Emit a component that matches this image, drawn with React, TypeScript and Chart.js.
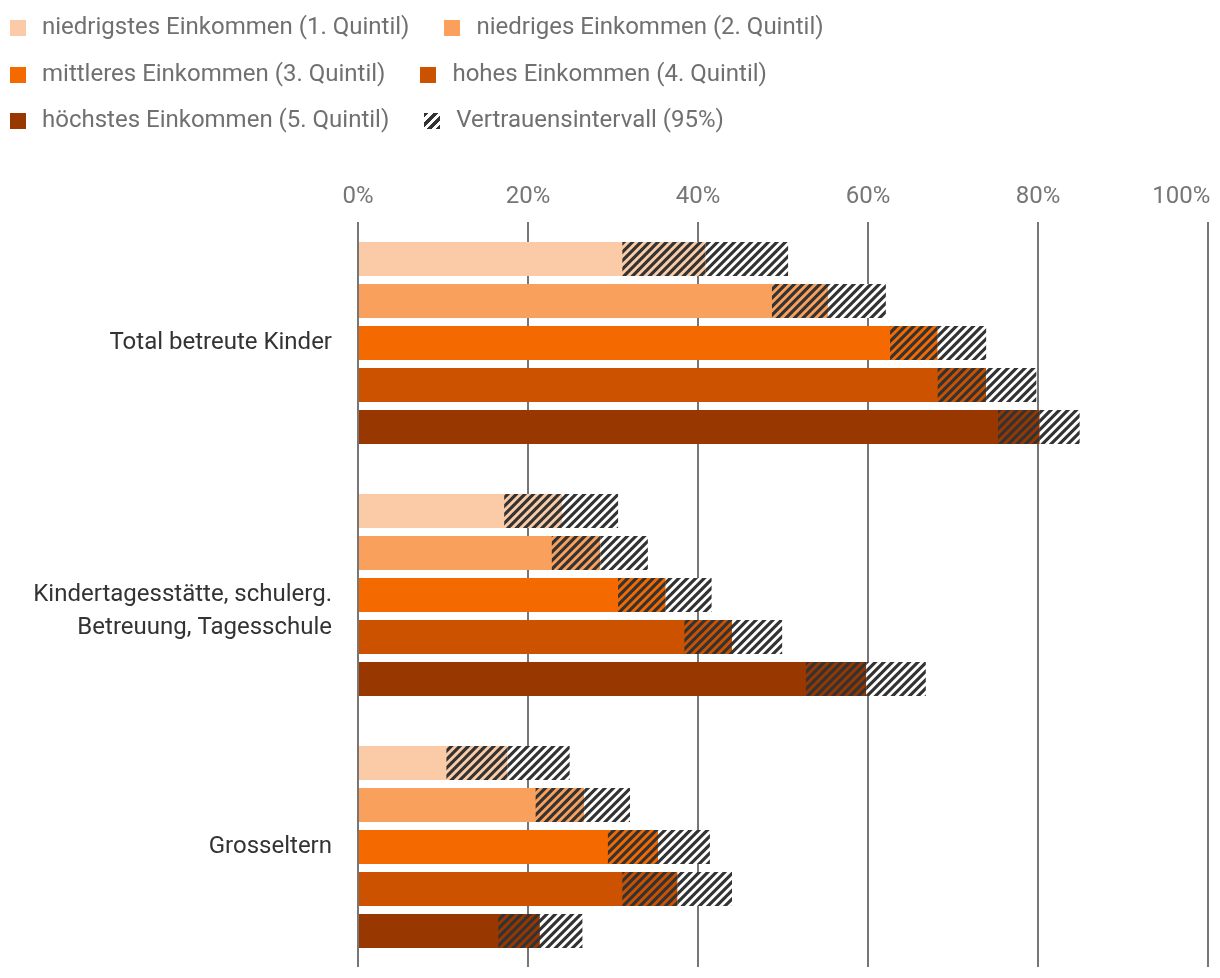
import React, { useEffect, useRef } from "react";
import { Chart, registerables } from "chart.js";

Chart.register(...registerables);

// ---- data ----
const categoryLines: string[][] = [
  ["Total betreute Kinder"],
  ["Kindertagesstätte, schulerg.", "Betreuung, Tagesschule"],
  ["Grosseltern"],
];
const categoryIndex = [0, 1, 2];

const quintileLabels = [
  "niedrigstes Einkommen (1. Quintil)",
  "niedriges Einkommen (2. Quintil)",
  "mittleres Einkommen (3. Quintil)",
  "hohes Einkommen (4. Quintil)",
  "höchstes Einkommen (5. Quintil)",
];
const ciLabel = "Vertrauensintervall (95%)";
const quintileColors = ["#FBCBA7", "#F9A05C", "#F46A00", "#CC5200", "#983800"];

// estimate per quintile, per category
const estQ1 = [40.9, 24.0, 17.6];
const estQ2 = [55.3, 28.5, 26.6];
const estQ3 = [68.2, 36.2, 35.3];
const estQ4 = [73.9, 44.0, 37.6];
const estQ5 = [80.2, 59.8, 21.4];

const lowQ1 = [31.1, 17.2, 10.4];
const lowQ2 = [48.7, 22.8, 20.9];
const lowQ3 = [62.6, 30.6, 29.4];
const lowQ4 = [68.2, 38.4, 31.1];
const lowQ5 = [75.3, 52.7, 16.5];

const upQ1 = [50.6, 30.6, 24.9];
const upQ2 = [62.1, 34.1, 32.0];
const upQ3 = [73.9, 41.6, 41.4];
const upQ4 = [79.8, 49.9, 44.0];
const upQ5 = [84.9, 66.8, 26.4];

const estimates = [estQ1, estQ2, estQ3, estQ4, estQ5];
const lowers = [lowQ1, lowQ2, lowQ3, lowQ4, lowQ5];
const uppers = [upQ1, upQ2, upQ3, upQ4, upQ5];

const xTickValues = [0, 20, 40, 60, 80, 100];
const xTickLabels = ["0%", "20%", "40%", "60%", "80%", "100%"];

const FONT = "Roboto";

function makeHatch(bg: string | null): CanvasPattern | string {
  const s = 17;
  const c = document.createElement("canvas");
  c.width = s;
  c.height = s;
  const g = c.getContext("2d");
  if (!g) return "#333";
  if (bg) {
    g.fillStyle = bg;
    g.fillRect(0, 0, s, s);
  }
  g.strokeStyle = "#333333";
  g.lineWidth = 3.1;
  g.beginPath();
  for (let k = -3; k <= 3; k++) {
    const o = (k * s) / 2;
    g.moveTo(o - 2, s + 2);
    g.lineTo(o + s + 2, -2);
  }
  g.stroke();
  return g.createPattern(c, "repeat") as CanvasPattern;
}

function LegendItem({ color, label, hatch }: { color?: string; label: string; hatch?: boolean }) {
  return (
    <div style={{ display: "flex", alignItems: "center", marginRight: 35 }}>
      <div
        style={{
          width: 16,
          height: 16,
          flex: "0 0 16px",
          marginRight: 16,
          background: hatch
            ? "repeating-linear-gradient(135deg, #333 0px, #333 3.5px, transparent 3.5px, transparent 6.5px)"
            : color,
        }}
      />
      <span style={{ position: "relative", top: -2, whiteSpace: "nowrap" }}>{label}</span>
    </div>
  );
}

export default function App() {
  const ref = useRef<HTMLCanvasElement | null>(null);

  useEffect(() => {
    if (!ref.current) return;
    const hatchClear = makeHatch(null);
    const hatchWhite = makeHatch("#ffffff");
    const datasets: any[] = [];
    quintileLabels.forEach((label, q) => {
      datasets.push({
        label,
        data: estimates[q],
        backgroundColor: quintileColors[q],
        borderWidth: 0,
        stack: "q" + q,
        order: 1,
      });
      datasets.push({
        label: ciLabel,
        data: estimates[q].map((e, i) => [lowers[q][i], e]),
        backgroundColor: hatchClear,
        borderWidth: 0,
        stack: "q" + q,
        order: 0,
      });
      datasets.push({
        label: ciLabel,
        data: estimates[q].map((e, i) => [e, uppers[q][i]]),
        backgroundColor: hatchWhite,
        borderWidth: 0,
        stack: "q" + q,
        order: 0,
      });
    });

    const tickFont = { family: FONT, size: 24, lineHeight: 1.2 };
    const chart = new Chart(ref.current, {
      type: "bar",
      data: { labels: categoryIndex, datasets },
      options: {
        animation: false,
        responsive: false,
        indexAxis: "y",
        categoryPercentage: 210 / 252,
        barPercentage: 34 / 42,
        layout: { padding: { top: 165, right: 4, bottom: 3, left: 0 } },
        plugins: { legend: { display: false }, tooltip: { enabled: false } },
        scales: {
          x: {
            type: "linear",
            position: "top",
            min: 0,
            max: 100,
            stacked: false,
            grid: { color: "#767676", lineWidth: 2, drawTicks: false },
            border: { display: false },
            afterBuildTicks: (s: any) => {
              s.ticks = xTickValues.map((v) => ({ value: v }));
            },
            afterFit: (s: any) => {
              s.paddingLeft = 0;
              s.paddingRight = 0;
            },
            ticks: {
              padding: 10,
              color: "#767676",
              font: tickFont,
              maxRotation: 0,
              autoSkip: false,
              // last label is kept inside the plot: trailing spaces shift the centred text left
              callback: (v: any, i: number) =>
                i === xTickValues.length - 1 ? xTickLabels[i] + "\u0020".repeat(9) : xTickLabels[i],
            },
          },
          y: {
            type: "linear",
            reverse: true,
            min: -0.481,
            max: 2.476,
            offset: false,
            grid: { display: false, offset: false, drawTicks: false },
            border: { display: false },
            afterBuildTicks: (s: any) => {
              s.ticks = categoryIndex.map((v) => ({ value: v }));
            },
            afterFit: (s: any) => {
              s.width = 350;
              s.paddingTop = 0;
              s.paddingBottom = 0;
            },
            ticks: {
              autoSkip: false,
              padding: 26,
              color: "#333333",
              font: { family: FONT, size: 24, lineHeight: 1.39 },
              callback: (v: any) => {
                const lines = categoryLines[v];
                if (!lines) return "";
                return lines.length > 1 ? ["", ...lines] : lines[0];
              },
            },
          },
        },
      } as any,
    });
    return () => chart.destroy();
  }, []);

  const rows: { color?: string; label: string; hatch?: boolean }[][] = [
    [
      { color: quintileColors[0], label: quintileLabels[0] },
      { color: quintileColors[1], label: quintileLabels[1] },
    ],
    [
      { color: quintileColors[2], label: quintileLabels[2] },
      { color: quintileColors[3], label: quintileLabels[3] },
    ],
    [
      { color: quintileColors[4], label: quintileLabels[4] },
      { label: ciLabel, hatch: true },
    ],
  ];

  return (
    <div style={{ position: "relative", width: 1204, height: 962 }}>
      <canvas ref={ref} width={1204} height={962} style={{ display: "block", width: 1204, height: 962 }} />
      <div
        style={{
          position: "absolute",
          left: 2,
          top: -3,
          fontFamily: FONT,
          fontSize: 24,
          color: "#707070",
        }}
      >
        {rows.map((r, i) => (
          <div key={i} style={{ display: "flex", height: 46.5, alignItems: "center" }}>
            {r.map((it, j) => (
              <LegendItem key={j} {...it} />
            ))}
          </div>
        ))}
      </div>
    </div>
  );
}
